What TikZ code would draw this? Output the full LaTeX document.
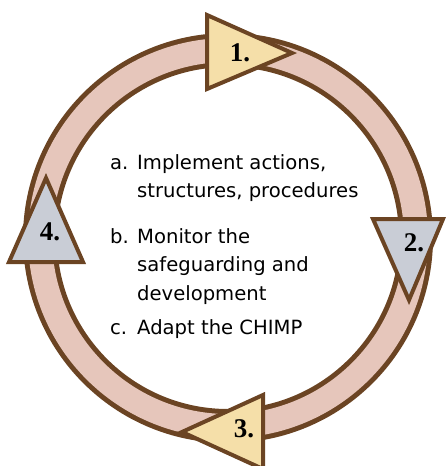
\documentclass[tikz,border=0pt]{standalone}
\usepackage{fontspec}
\setmainfont{DejaVu Sans}
\newfontfamily\numfont{Liberation Serif}
\definecolor{ringbrown}{HTML}{6B4423}
\definecolor{ringpink}{HTML}{E6C6BB}
\definecolor{triyellow}{HTML}{F5DFA9}
\definecolor{trigray}{HTML}{C9CDD6}
\tikzset{
  ringout/.style={draw=ringbrown, line width=34pt},
  ringin/.style={draw=ringpink, line width=24pt},
  tri/.style={draw=ringbrown, line width=4pt, line join=miter},
  num/.style={font=\numfont\bfseries\fontsize{27}{27}\selectfont, inner sep=0pt},
  lbl/.style={font=\fontsize{19.6}{28.5}\selectfont, anchor=base west, inner sep=0pt},
  body/.style={font=\fontsize{19.6}{28.5}\selectfont, anchor=base west, inner sep=0pt}
}
\newcommand{\lines}[1]{\begin{tabular}[t]{@{}l@{}}#1\end{tabular}}
\begin{document}
\begin{tikzpicture}[x=1pt,y=-1pt]
\useasboundingbox (0,0) rectangle (445,466);
\coordinate (c) at (228,238);
\draw[ringout] (c) circle (188);
\draw[ringin] (c) circle (188);
% triangles
\draw[tri, fill=triyellow] (207,15) -- (207,89) -- (292,53) -- cycle;
\draw[tri, fill=trigray] (373,219) -- (443,219) -- (409,300) -- cycle;
\draw[tri, fill=triyellow] (263,395) -- (263,469) -- (182,432) -- cycle;
\draw[tri, fill=trigray] (46,178) -- (83,262) -- (9,262) -- cycle;
\node[num] (n1) at (240,53) {1.};
\node[num] (n2) at (414,243) {2.};
\node[num] (n3) at (244,429) {3.};
\node[num] (n4) at (50,232) {4.};
% text
\node[lbl] (la) at (110,169) {a.};
\node[body] (ta) at (137,169) {\lines{Implement actions,\\structures, procedures}};
\node[lbl] (lb) at (110,243) {b.};
\node[body] (tb) at (137,243) {\lines{Monitor the\\safeguarding and\\development}};
\node[lbl] (lc) at (110,334) {c.};
\node[body] (tc) at (137,334) {Adapt the CHIMP};
\end{tikzpicture}
\end{document}
